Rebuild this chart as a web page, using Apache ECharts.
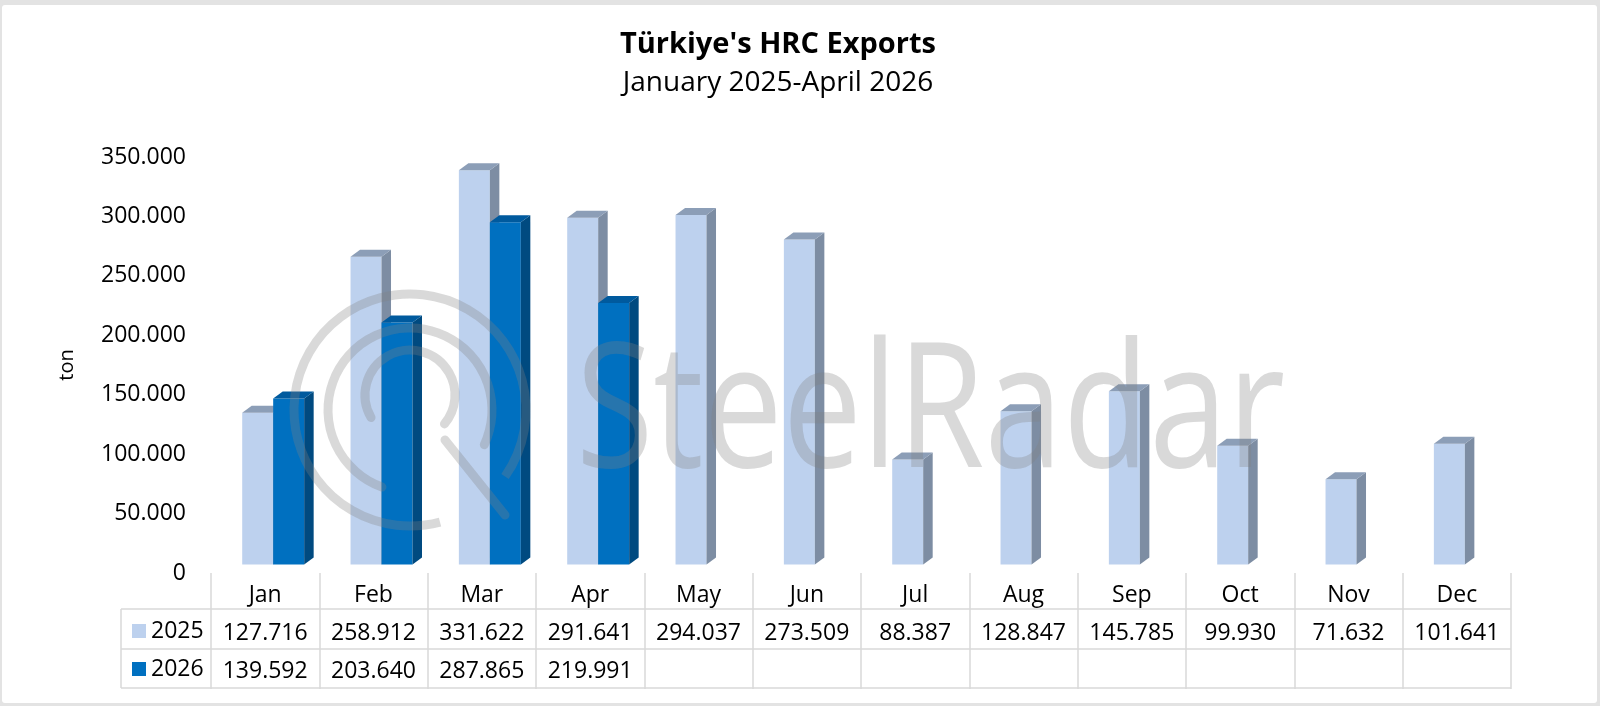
<!DOCTYPE html>
<html>
<head>
<meta charset="utf-8">
<title>Türkiye's HRC Exports</title>
<script src="https://cdn.jsdelivr.net/npm/echarts@6/dist/echarts.min.js"></script>
<style>
  html, body { margin: 0; padding: 0; background: #fff; }
  #main { width: 1600px; height: 706px; }
</style>
</head>
<body>
<div id="main"></div>
<script>
var months = ["Jan", "Feb", "Mar", "Apr", "May", "Jun", "Jul", "Aug", "Sep", "Oct", "Nov", "Dec"];
var exports2025 = [127716, 258912, 331622, 291641, 294037, 273509, 88387, 128847, 145785, 99930, 71632, 101641];
var exports2026 = [139592, 203640, 287865, 219991, null, null, null, null, null, null, null, null];

var FONT = "'Open Sans', sans-serif";
var GRID_LINE = "#d9d9d9";

// 127716 -> "127.716"
function fmt(v) {
  if (v == null) return " ";
  return String(v).replace(/\B(?=(\d{3})+(?!\d))/g, ".");
}

// 3D column: front face, side face, top face
function bar3d(shift, front, side, top) {
  return function (params, api) {
    var band = api.size([1, 0])[0];
    var p = api.coord([api.value(0), api.value(1)]);
    var b = api.coord([api.value(0), 0]);
    var w = band * 0.286, dx = 9.5, dy = 7, lift = 8.5;
    var x0 = p[0] + band * shift, x1 = x0 + w;
    var yT = p[1] - lift, yB = b[1] - lift;
    return {
      type: "group",
      children: [
        { type: "rect", shape: { x: x0, y: yT, width: w, height: yB - yT }, style: { fill: front } },
        { type: "polygon", shape: { points: [[x1, yT], [x1 + dx, yT - dy], [x1 + dx, yB - dy], [x1, yB]] }, style: { fill: side } },
        { type: "polygon", shape: { points: [[x0, yT], [x0 + dx, yT - dy], [x1 + dx, yT - dy], [x1, yT]] }, style: { fill: top } }
      ]
    };
  };
}

function toData(arr) {
  return arr.map(function (v, i) { return [i, v]; }).filter(function (d) { return d[1] != null; });
}

var chart = echarts.init(document.getElementById("main"));

var wm = "rgba(128,128,128,0.3)";
var option = {
  backgroundColor: "#e3e3e3",
  textStyle: { fontFamily: FONT },
  title: [
    { text: "Türkiye's HRC Exports", left: 778, textAlign: "center", top: 28, padding: 0,
      textStyle: { fontSize: 29, fontWeight: "bold", color: "#000", lineHeight: 34, fontFamily: FONT } },
    { text: "January 2025-April 2026", left: 778, textAlign: "center", top: 66, padding: 0,
      textStyle: { fontSize: 28, fontWeight: "normal", color: "#000", lineHeight: 34, fontFamily: FONT } }
  ],
  grid: { left: 211, right: 89, top: 157, bottom: 133 },
  legend: {
    data: ["2025", "2026"],
    orient: "vertical",
    left: 127,
    top: 614,
    itemWidth: 14,
    itemHeight: 14,
    itemGap: 14,
    icon: "rect",
    selectedMode: false,
    textStyle: { fontSize: 23, lineHeight: 24, color: "#000", fontFamily: FONT }
  },
  xAxis: {
    type: "category",
    data: months,
    axisLine: { show: false },
    axisTick: { show: true, interval: 0, length: 116, lineStyle: { color: GRID_LINE, width: 1.5 } },
    axisLabel: {
      interval: 0,
      margin: 3,
      formatter: function (value, idx) {
        return "{h|" + value + "}\n{v|" + fmt(exports2025[idx]) + "}\n{v|" + fmt(exports2026[idx]) + "}";
      },
      rich: {
        h: { fontSize: 23, lineHeight: 38, color: "#000", fontFamily: FONT },
        v: { fontSize: 23, lineHeight: 38, color: "#000", fontFamily: FONT }
      }
    },
    splitLine: { show: false }
  },
  yAxis: {
    type: "value",
    min: 0,
    max: 350000,
    interval: 50000,
    name: "ton",
    nameLocation: "middle",
    nameRotate: 90,
    nameGap: 134,
    nameTextStyle: { fontSize: 20, color: "#000", fontFamily: FONT },
    axisLabel: { formatter: fmt, fontSize: 23, color: "#000", margin: 25, fontFamily: FONT },
    axisLine: { show: false },
    axisTick: { show: false },
    splitLine: { show: false }
  },
  series: [
    {
      name: "2025",
      type: "custom",
      itemStyle: { color: "#bdd1ee" },
      encode: { x: 0, y: 1 },
      renderItem: bar3d(-0.212, "#bdd1ee", "#7d8da3", "#8c9eb7"),
      data: toData(exports2025)
    },
    {
      name: "2026",
      type: "custom",
      itemStyle: { color: "#0070c0" },
      encode: { x: 0, y: 1 },
      renderItem: bar3d(0.074, "#0070c0", "#004a80", "#005a9e"),
      data: toData(exports2026)
    }
  ],
  graphic: [
    // white card
    { type: "rect", z: -10, shape: { x: 2, y: 5, width: 1595, height: 698, r: 3 }, style: { fill: "#fff" } },
    // data table borders
    { type: "line", shape: { x1: 121, y1: 609, x2: 1511, y2: 609 }, style: { stroke: GRID_LINE, lineWidth: 1.5 } },
    { type: "line", shape: { x1: 121, y1: 649, x2: 1511, y2: 649 }, style: { stroke: GRID_LINE, lineWidth: 1.5 } },
    { type: "line", shape: { x1: 121, y1: 688, x2: 1511, y2: 688 }, style: { stroke: GRID_LINE, lineWidth: 1.5 } },
    { type: "line", shape: { x1: 121, y1: 609, x2: 121, y2: 688 }, style: { stroke: GRID_LINE, lineWidth: 1.5 } },
    // watermark
    { type: "arc", z: 100, shape: { cx: 410, cy: 410, r: 116, startAngle: 75 * Math.PI / 180, endAngle: 395 * Math.PI / 180 },
      style: { stroke: wm, lineWidth: 9, fill: null } },
    { type: "arc", z: 100, shape: { cx: 410, cy: 410, r: 82, startAngle: 110 * Math.PI / 180, endAngle: 385 * Math.PI / 180 },
      style: { stroke: wm, lineWidth: 9, fill: null, lineCap: "round" } },
    { type: "arc", z: 100, shape: { cx: 410, cy: 395, r: 45, startAngle: 150 * Math.PI / 180, endAngle: 400 * Math.PI / 180 },
      style: { stroke: wm, lineWidth: 9, fill: null, lineCap: "round" } },
    { type: "line", z: 100, shape: { x1: 445, y1: 440, x2: 505, y2: 515 }, style: { stroke: wm, lineWidth: 9, lineCap: "round" } },
    { type: "text", z: 100, x: 576, y: 418, scaleY: 1.23, originX: 0, originY: 0,
      style: { text: "SteelRadar", x: 0, y: 0, fill: wm, font: "141px 'Open Sans', sans-serif", verticalAlign: "middle", align: "left" } }
  ]
};

chart.setOption(option);
</script>
</body>
</html>
